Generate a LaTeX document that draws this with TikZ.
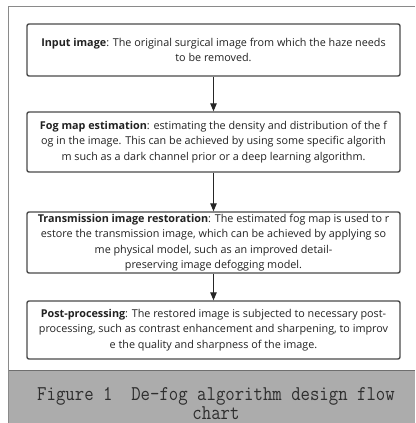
\documentclass[tikz,border=0pt]{standalone}
\usepackage{fontspec}
\usepackage{graphicx}
\setmainfont{Open Sans}
\usetikzlibrary{arrows.meta}
\definecolor{boxline}{HTML}{4A4A4A}
\definecolor{frameline}{HTML}{8A8A8A}
\definecolor{capfill}{HTML}{ACACAC}
\definecolor{captext}{HTML}{2E2E2E}
\definecolor{bodytext}{HTML}{222222}
\tikzset{
  stepbox/.style={draw=boxline, line width=1.4pt, rounded corners=2pt, fill=white,
    minimum width=373pt, inner sep=0pt, align=center, text=bodytext,
    font=\fontsize{10.8pt}{15.5pt}\selectfont},
  flowarrow/.style={draw=black!85, line width=0.9pt, -{Triangle[width=6.5pt,length=8pt]}},
  frame/.style={draw=frameline, line width=1pt},
  captionstyle/.style={anchor=base, text=captext, inner sep=0pt,
    font=\ttfamily\fontsize{21pt}{21pt}\selectfont},
}
\begin{document}
\begin{tikzpicture}[x=1pt,y=-1pt]
\useasboundingbox (0,0) rectangle (415,423);
\fill[white] (0,0) rectangle (415,423);
% outer frame
\draw[frame] (415,6) -- (8,6) -- (8,423);
% caption band
\fill[capfill] (8,370) rectangle (415,423);
\draw[draw=frameline!80!black, line width=0.8pt] (8,370) -- (415,370);
\draw[frame] (8,370) -- (8,423);
\node[captionstyle] (cap1) at (216,400)
  {\scalebox{0.87}[1]{Figure 1\ \ De-fog algorithm design flow}};
\node[captionstyle] (cap2) at (216,419.5)
  {\scalebox{0.87}[1]{chart}};
% boxes
\node[stepbox, minimum height=52pt] (b1) at (213.5,50)
  {\textbf{Input image}: The original surgical image from which the haze needs\\to be removed.};
\node[stepbox, minimum height=60pt] (b2) at (213.5,142)
  {\textbf{Fog map estimation}: estimating the density and distribution of the f\\og in the image. This can be achieved by using some specific algorith\\m such as a dark channel prior or a deep learning algorithm.};
\node[stepbox, minimum height=61pt] (b3) at (213.5,242.5)
  {\textbf{Transmission image restoration}: The estimated fog map is used to r\\estore the transmission image, which can be achieved by applying so\\me physical model, such as an improved detail-\\preserving image defogging model.};
\node[stepbox, minimum height=58pt] (b4) at (213.5,330)
  {\textbf{Post-processing}: The restored image is subjected to necessary post-\\processing, such as contrast enhancement and sharpening, to improv\\e the quality and sharpness of the image.};
% arrows
\draw[flowarrow] (b1.south) -- (b2.north);
\draw[flowarrow] (b2.south) -- (b3.north);
\draw[flowarrow] (b3.south) -- (b4.north);
\end{tikzpicture}
\end{document}
